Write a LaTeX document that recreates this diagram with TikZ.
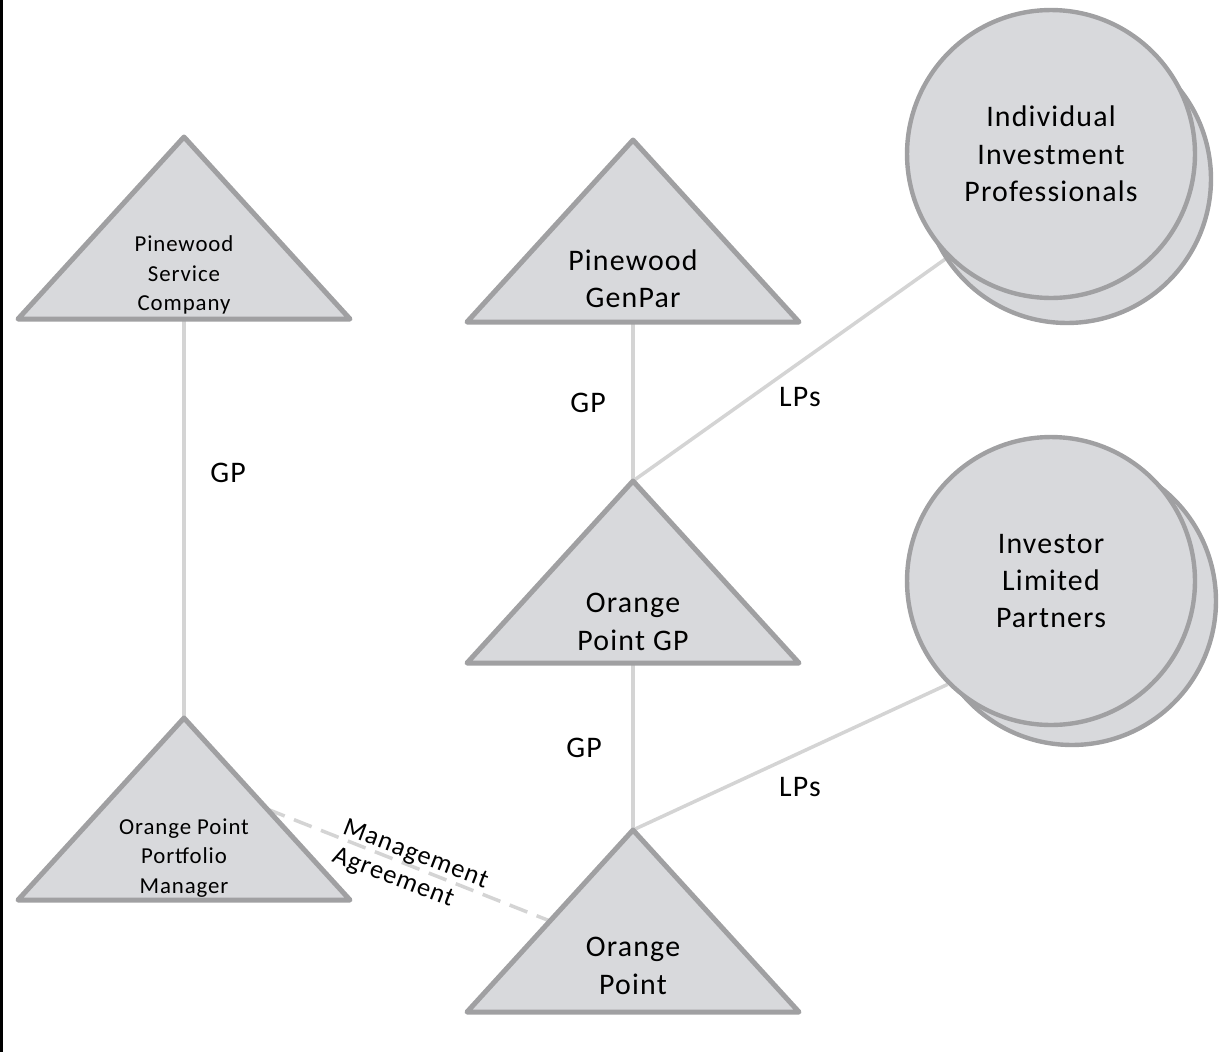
\documentclass[tikz,border=0pt]{standalone}
\usepackage{fontspec}
\setmainfont{Carlito}[LetterSpace=4]
\usetikzlibrary{backgrounds,calc}

\definecolor{triedge}{RGB}{160,160,162}
\definecolor{trifill}{RGB}{216,217,220}
\definecolor{linkgray}{RGB}{212,212,212}

\begin{document}
\begin{tikzpicture}[x=0.02cm, y=-0.02cm,
    tri/.style={draw=triedge, fill=trifill, line width=2.85pt, line join=round},
    party/.style={circle, draw=triedge, fill=trifill, line width=2.5pt, minimum size=5.76cm, inner sep=0pt},
    link/.style={draw=linkgray, line width=2pt},
    bigtxt/.style={align=center, font=\fontsize{17}{21.3}\selectfont},
    smalltxt/.style={align=center, font=\fontsize{13}{17}\selectfont},
    lbl/.style={font=\fontsize{17}{21}\selectfont}]
    \useasboundingbox (0,0) rectangle (1231,1052);
    \fill[black] (0,0) rectangle (3,1052);

    % limited partners, drawn as two stacked circles
    \node[party] (iip-back) at (1067,179) {};
    \node[party, bigtxt] (iip) at (1051,154) {Individual\\Investment\\Professionals};
    \node[party] (ilp-back) at (1072,601) {};
    \node[party, bigtxt] (ilp) at (1051,581) {Investor\\Limited\\Partners};

    % entities
    \foreach \n/\x/\y in {psc/184/137, pm/184/718, pgp/633/140, ogp/633/481, op/633/830}
        \draw[tri] (\x,\y) coordinate (\n) -- ++(166,182) coordinate (\n-r) -- ++(-166,0) coordinate (\n-b)
            -- ++(-166,0) coordinate (\n-l) -- cycle;

    \node[smalltxt] (psc-txt) at (184,275) {Pinewood\\Service\\Company};
    \node[smalltxt] (pm-txt) at (184,858) {Orange Point\\Portfolio\\Manager};
    \node[bigtxt] (pgp-txt) at (633,279) {Pinewood\\GenPar};
    \node[bigtxt] (ogp-txt) at (633,622) {Orange\\Point GP};
    \node[bigtxt] (op-txt) at (633,966) {Orange\\Point};

    \begin{pgfonlayer}{background}
        \draw[link] (psc-b) -- (pm);
        \draw[link] (pgp-b) -- (ogp);
        \draw[link] (ogp-b) -- (op);
        \draw[link] (ogp) -- (iip.225);
        \draw[link] (op) -- (ilp.225);
        \draw[link, dash pattern=on 0.38cm off 0.2cm] ($(pm)!0.5!(pm-r)$) -- ($(op)!0.5!(op-l)$);
    \end{pgfonlayer}

    \node[lbl] (gp-psc) at (228,473) {GP};
    \node[lbl] (gp-pgp) at (588,403) {GP};
    \node[lbl] (lp-iip) at (800,397) {LPs};
    \node[lbl] (gp-ogp) at (584,748) {GP};
    \node[lbl] (lp-ilp) at (800,787) {LPs};
    \node[align=left, rotate=-21, font=\fontsize{15}{17}\selectfont] (mgmt) at (410,869) {Management\\Agreement};
\end{tikzpicture}
\end{document}
